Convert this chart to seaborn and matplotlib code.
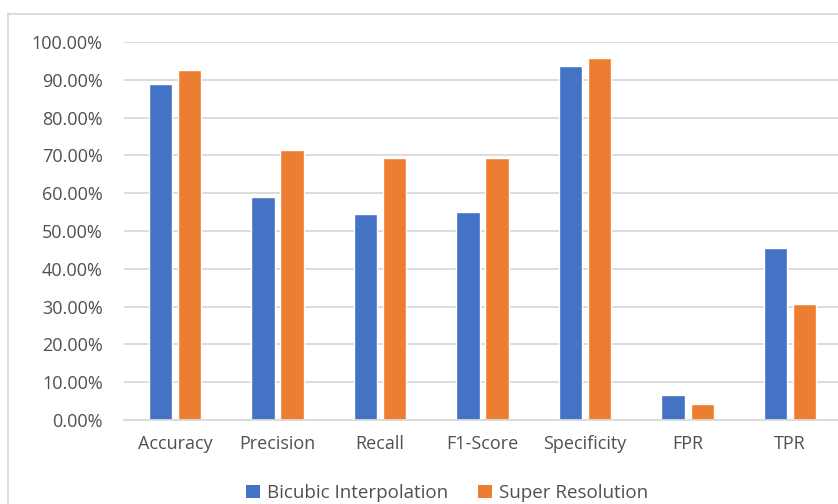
import matplotlib
matplotlib.use("Agg")
import matplotlib.pyplot as plt
from matplotlib.ticker import PercentFormatter, MultipleLocator
from matplotlib.lines import Line2D
from matplotlib.patches import Patch
import pandas as pd
import seaborn as sns

metrics = ["Accuracy", "Precision", "Recall", "F1-Score", "Specificity", "FPR", "TPR"]
bicubic = [88.8, 59.0, 54.4, 54.9, 93.6, 6.5, 45.5]
super_res = [92.5, 71.3, 69.4, 69.4, 95.8, 4.2, 30.7]
series_names = ["Bicubic Interpolation", "Super Resolution"]
palette = {"Bicubic Interpolation": "#4472C4", "Super Resolution": "#ED7D31"}

df = pd.DataFrame({
    "Metric": metrics * 2,
    "Value": bicubic + super_res,
    "Method": [series_names[0]] * len(metrics) + [series_names[1]] * len(metrics),
})

sns.set_theme(style="white")
plt.rcParams["font.family"] = ["Open Sans", "DejaVu Sans"]
text_color = "#505050"
grid_color = "#D9D9D9"

W, H = 838, 504
fig = plt.figure(figsize=(W / 100, H / 100), dpi=100)
ax = fig.add_axes([123.6 / W, (H - 420) / H, (841.5 - 123.6) / W, (420 - 42) / H])

sns.barplot(data=df, x="Metric", y="Value", hue="Method", palette=palette,
            width=0.568, gap=0.2, saturation=1, ax=ax, legend=False)

ax.set_ylim(0, 100)
ax.set_xlim(-0.5, len(metrics) - 0.5)
ax.yaxis.set_major_locator(MultipleLocator(10))
ax.yaxis.set_major_formatter(PercentFormatter(xmax=100, decimals=2))
ax.grid(axis="y", color=grid_color, linewidth=1.3)
ax.set_axisbelow(True)
for s in ["left", "right", "top"]:
    ax.spines[s].set_visible(False)
ax.spines["bottom"].set_color(grid_color)
ax.spines["bottom"].set_linewidth(1.3)
ax.set_xlabel("")
ax.set_ylabel("")
ax.tick_params(axis="y", length=0, pad=15, labelsize=13, labelcolor=text_color)
ax.tick_params(axis="x", length=0, pad=11, labelsize=13, labelcolor=text_color)

handles = [Patch(facecolor=palette[n], edgecolor="none") for n in series_names]
fig.legend(handles, series_names, loc="center", bbox_to_anchor=(447 / W, (H - 493) / H),
           ncol=2, frameon=False, fontsize=13.5, labelcolor=text_color,
           handlelength=0.75, handleheight=0.75, handletextpad=0.35, columnspacing=1.6)

# chart area border
fig.add_artist(Line2D([8 / W, 8 / W], [0, (H - 14) / H], color=grid_color, linewidth=1.3,
                      transform=fig.transFigure))
fig.add_artist(Line2D([8 / W, 1], [(H - 14) / H, (H - 14) / H], color=grid_color, linewidth=1.3,
                      transform=fig.transFigure))

fig.savefig("out.png", dpi=100, facecolor="white")
